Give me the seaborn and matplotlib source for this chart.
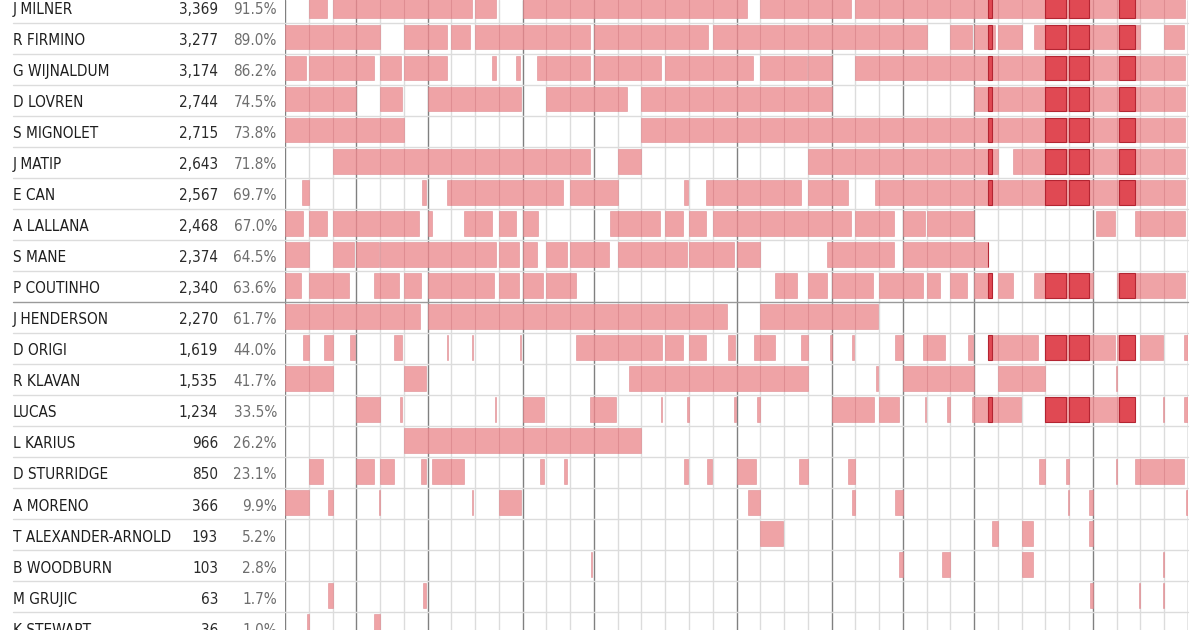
import matplotlib
matplotlib.use("Agg")
import matplotlib.pyplot as plt
import matplotlib.transforms as mtransforms
from matplotlib import font_manager as fm
import pandas as pd
import seaborn as sns

sns.set_theme(style="white")

# players, total minutes, share of available minutes
players = ["J MILNER", "R FIRMINO", "G WIJNALDUM", "D LOVREN", "S MIGNOLET", "J MATIP",
           "E CAN", "A LALLANA", "S MANE", "P COUTINHO", "J HENDERSON", "D ORIGI",
           "R KLAVAN", "LUCAS", "L KARIUS", "D STURRIDGE", "A MORENO",
           "T ALEXANDER-ARNOLD", "B WOODBURN", "M GRUJIC", "K STEWART"]
minutes = [3369, 3277, 3174, 2744, 2715, 2643, 2567, 2468, 2374, 2340, 2270, 1619,
           1535, 1234, 966, 850, 366, 193, 103, 63, 36]
shares = [91.5, 89.0, 86.2, 74.5, 73.8, 71.8, 69.7, 67.0, 64.5, 63.6, 61.7, 44.0,
          41.7, 33.5, 26.2, 23.1, 9.9, 5.2, 2.8, 1.7, 1.0]

# per match: (minute on, minute off), one cell = 96 minutes; _ = did not play
CELL = 96
F = (0, 96)
_ = None
apps = [
    # J MILNER
    [_, (0, 72), F, F, F, F, F, (0, 82), (0, 84), _, F, F, F, F, F, F, F, F, F, (0, 42),
     F, F, F, (0, 78), F, F, F, F, F, F, F, F, F, F, F, F, F, (0, 84)],
    # R FIRMINO
    [F, F, F, F, _, F, (0, 77), (0, 76), F, F, F, F, (0, 80), F, F, F, F, (0, 78), F, F,
     F, F, F, F, F, F, F, _, (0, 89), (0, 85), F, (50, 96), F, F, F, F, _, (0, 80)],
    # G WIJNALDUM
    [(0, 84), F, F, (0, 73), (0, 85), F, (0, 77), _, (70, 86), (70, 86), (58, 96), F, (0, 80), F, F,
     (0, 79), F, F, F, (0, 68), F, (0, 92), F, _, F, F, F, F, F, F, F, F, F, F, F, F, F, (0, 84)],
    # D LOVREN
    [F, F, F, _, (0, 88), _, F, F, F, (0, 88), _, F, F, F, (0, 37), F, F, F, F, F,
     F, F, F, _, _, _, _, _, _, F, F, F, F, F, F, F, F, (0, 84)],
    # S MIGNOLET
    [F, F, F, F, F, _, _, _, _, _, _, _, _, _, _, F, F, F, F, F,
     F, F, F, F, F, F, F, F, F, F, F, F, F, F, F, F, F, (0, 84)],
    # J MATIP
    [_, _, F, F, F, F, F, F, F, F, F, F, (0, 80), _, F, _, _, _, _, _,
     _, _, F, F, F, F, F, F, F, F, (61, 96), F, F, F, F, F, F, (0, 84)],
    # E CAN
    [(67, 96), _, _, _, _, (75, 88), (77, 96), F, F, F, F, (0, 68), F, F, _, _, (76, 93), (69, 96), F, F,
     F, (0, 67), F, (0, 66), (80, 96), F, F, F, F, F, F, F, F, F, F, F, F, (0, 84)],
    # A LALLANA
    [(0, 72), (0, 72), F, F, F, (0, 63), (0, 17), (53, 96), (0, 70), (0, 68), (0, 61), _, _, (65, 96), F,
     (0, 75), (0, 73), (0, 69), F, F, F, F, F, (0, 77), F, (0, 61), (0, 90), F, F, _,
     _, _, _, _, (13, 90), (75, 96), F, (0, 84)],
    # S MANE
    [F, _, (0, 87), (0, 92), F, F, F, F, (0, 83), (0, 83), (0, 57), (0, 85), F, (0, 62), F, F, (0, 87), F,
     (0, 86), F, _, _, (77, 96), F, F, (0, 62), F, F, F, (0, 58), _, _, _, _, _, _, _, _],
    # P COUTINHO
    [(0, 65), F, (0, 67), (73, 96), (0, 78), (0, 70), F, F, (0, 78), (0, 83), (0, 84), F, (0, 23), _, _,
     _, _, _, _, _, (60, 96), (0, 51), (0, 77), F, (0, 73), F, (0, 80), (0, 55), (0, 66), (0, 72),
     (0, 63), (50, 96), F, F, _, F, F, (0, 84)],
    # J HENDERSON
    [F, F, F, F, F, (0, 65), F, F, F, F, F, F, F, F, F, F, F, F, (0, 57), _,
     F, F, F, F, (0, 91), _, _, _, _, _, _, _, _, _, _, _, _, _],
    # D ORIGI
    [(74, 96), (63, 96), (71, 92), _, (58, 88), _, (77, 84), (82, 87), _, (86, 90), _, _, (24, 96), F, F,
     (0, 82), (0, 73), (0, 69), (63, 90), (72, 96), (0, 60), (69, 96), (90, 96), (81, 92), _, (65, 96),
     (83, 96), (0, 75), (73, 93), (58, 96), F, (0, 67), F, F, (0, 90), (0, 74), (0, 92), (80, 96)],
    # R KLAVAN
    [F, F, _, _, _, (0, 88), _, _, _, _, _, _, _, _, (46, 96), F, F, F, F, F,
     F, F, _, _, (84, 91), _, F, F, F, _, F, F, _, _, (93, 96), _, _, _],
    # LUCAS
    [_, _, _, F, (81, 90), _, _, _, (80, 85), _, (0, 88), _, (81, 96), (0, 88), _, (78, 83), (90, 95), _,
     (87, 93), (82, 96), _, _, _, F, (0, 77), (0, 81), (89, 94), (82, 96), (89, 96), F, (0, 92), _,
     F, F, F, (0, 74), (92, 96), (80, 96)],
    # L KARIUS
    [_, _, _, _, _, F, F, F, F, F, F, F, F, F, F, _, _, _, _, _,
     _, _, _, _, _, _, _, _, _, _, _, _, _, _, _, _, _, _],
    # D STURRIDGE
    [_, (0, 57), _, (0, 71), (0, 57), (69, 88), (19, 96), (0, 51), _, _, (70, 86), (71, 84), _, _, _, _,
     (77, 91), (72, 92), _, (0, 78), _, (61, 96), _, (68, 96), _, _, _, _, _, _, _, (72, 96),
     (84, 96), _, (92, 96), (74, 96), F, (0, 80)],
    # A MORENO
    [F, (79, 96), _, (92, 96), _, _, _, (82, 87), _, (0, 90), _, _, _, _, _, _, _, _, _, (48, 96),
     _, _, _, (81, 96), _, (65, 96), _, _, _, _, _, _, (93, 96), (80, 96), _, _, _, (87, 96)],
    # T ALEXANDER-ARNOLD
    [_, _, _, _, _, _, _, _, _, _, _, _, _, _, _, _, _, _, _, _,
     (0, 92), _, _, _, _, _, _, _, _, (74, 96), _, (0, 45), _, (80, 96), _, _, _, _],
    # B WOODBURN
    [_, _, _, _, _, _, _, _, _, _, _, _, (84, 90), _, _, _, _, _, _, _,
     _, _, _, _, _, (82, 96), _, (61, 96), _, _, _, (0, 45), _, _, _, _, (92, 96), _],
    # M GRUJIC
    [_, (79, 96), _, _, _, (76, 88), _, _, _, _, _, _, _, _, _, _, _, _, _, _,
     _, _, _, _, _, _, _, _, _, _, _, _, _, (84, 96), _, (92, 96), (90, 96), _],
    # K STEWART
    [(87, 96), _, _, (73, 96), _, _, _, _, _, _, _, _, _, _, _, _, _, _, _, _,
     _, _, _, _, _, _, _, _, _, _, _, _, _, _, _, _, _, _],
]

# first match of each month (Aug .. May) and the season end
month_starts = [0, 3, 6, 10, 13, 19, 23, 26, 29, 34, 38]

# highlighted spells (darker red)
hl_match = [29, 32, 33, 35]
hl_start = [57, 0, 0, 8]
hl_end = [72, 82, 80, 74]

# ---------------------------------------------------------------- segments
rows = []
for i, games in enumerate(apps):
    for m, g in enumerate(games):
        if g is not None:
            rows.append({"row": i, "match": m, "on": g[0], "off": g[1]})
seg = pd.DataFrame(rows)
seg["left"] = seg["match"] + seg["on"] / CELL
seg["width"] = (seg["off"] - seg["on"]) / CELL

hl = pd.DataFrame({"match": hl_match, "hs": hl_start, "he": hl_end})
dark = seg.merge(hl, on="match")
dark["s"] = dark[["on", "hs"]].max(axis=1)
dark["e"] = dark[["off", "he"]].min(axis=1)
dark = dark[dark["e"] > dark["s"]]

# ---------------------------------------------------------------- fonts
avail = {f.name for f in fm.fontManager.ttflist}
if "Liberation Sans Narrow" in avail:
    font = dict(family="Liberation Sans Narrow")
    fs_name, fs_num = 12.2, 12.2
elif any(f.name == "DejaVu Sans" and "condensed" in str(f.stretch) for f in fm.fontManager.ttflist):
    font = dict(family="DejaVu Sans", stretch="condensed")
    fs_name, fs_num = 11, 11
else:
    font = dict(family="Roboto")
    fs_name, fs_num = 10.5, 11

# ---------------------------------------------------------------- figure
W, H = 1200, 630
fig = plt.figure(figsize=(W / 100, H / 100), dpi=100)
gx0, gx1 = 285, 1188
ax = fig.add_axes([gx0 / W, 0, (gx1 - gx0) / W, 1])
n_match = len(apps[0])
ax.set_xlim(0, n_match)
ax.set_ylim(20.07, -0.232)
ax.axis("off")

# vertical grid: light per match, darker per month
for m in range(n_match + 1):
    if m in month_starts:
        ax.axvline(m, color="#808080", lw=1.0, zorder=1)
    else:
        ax.axvline(m, color="#dcdcdc", lw=1.0, zorder=1)

# horizontal row lines across the whole table
blend = mtransforms.blended_transform_factory(fig.transFigure, ax.transData)
for i in range(-1, len(players)):
    col = "#9a9a9a" if i == 9 else "#dcdcdc"
    ax.plot([13 / W, gx1 / W], [i + 0.5, i + 0.5], transform=blend, color=col,
            lw=1.0, clip_on=False, zorder=1)

bar_h = 0.8
off = -0.04
ax.barh(seg["row"] + off, seg["width"], left=seg["left"], height=bar_h,
        color=(0.93, 0.575, 0.594), alpha=0.85, edgecolor=(0.86, 0.5, 0.53),
        linewidth=0.4, zorder=2)
ax.barh(dark["row"] + off, (dark["e"] - dark["s"]) / CELL,
        left=dark["match"] + dark["s"] / CELL, height=bar_h,
        color="#DF414C", alpha=0.92, edgecolor="#B01E2C", linewidth=0.8, zorder=3)

# table text
for i, (p, mnt, sh) in enumerate(zip(players, minutes, shares)):
    y = i + 0.22
    fig.text(13 / W, y, p, transform=blend, ha="left", va="baseline",
             fontsize=fs_name, color="#1e1e1e", **font)
    fig.text(218 / W, y, f"{mnt:,}", transform=blend, ha="right", va="baseline",
             fontsize=fs_num, color="#2a2a2a", **font)
    fig.text(277 / W, y, f"{sh:.1f}%", transform=blend, ha="right", va="baseline",
             fontsize=fs_num, color="#6e6e6e", **font)

fig.savefig("out.png", dpi=100)
